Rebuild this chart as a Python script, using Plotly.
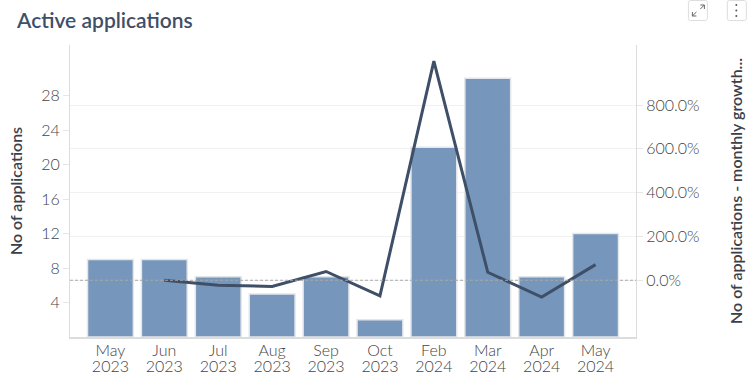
import plotly.graph_objects as go

month_labels = ["May<br>2023", "Jun<br>2023", "Jul<br>2023", "Aug<br>2023", "Sep<br>2023",
                "Oct<br>2023", "Feb<br>2024", "Mar<br>2024", "Apr<br>2024", "May<br>2024"]
applications = [9, 9, 7, 5, 7, 2, 22, 30, 7, 12]
growth = [None, 0, -22.2, -28.6, 40, -71.4, 1000, 36.4, -76.7, 71.4]
left_ticks = [4, 8, 12, 16, 20, 24, 28]
right_ticks = [0, 200, 400, 600, 800]

W, H = 750, 383
L, R, T, B = 69.5, 636.5, 45, 337
FONT = "Lato"
TEXT = "#444444"
NAVY = "#3f4f68"
TITLE = "#3a3f4a"
AXIS = "#dcdcdc"
positions = list(range(len(month_labels)))


def px(x, y):
    return (x - L) / (R - L), (B - y) / (B - T)


def path(points, close=False):
    coords = [px(*p) for p in points]
    d = "M" + " L".join(f"{a:.5f},{b:.5f}" for a, b in coords)
    return d + (" Z" if close else "")


def rounded_rect(x0, y0, x1, y1, r=2):
    a0, b0 = px(x0, y0)
    a1, b1 = px(x1, y1)
    ra, rb = r / (R - L), r / (B - T)
    return (f"M{a0 + ra:.5f},{b0:.5f} L{a1 - ra:.5f},{b0:.5f} Q{a1:.5f},{b0:.5f} {a1:.5f},{b0 - rb:.5f} "
            f"L{a1:.5f},{b1 + rb:.5f} Q{a1:.5f},{b1:.5f} {a1 - ra:.5f},{b1:.5f} "
            f"L{a0 + ra:.5f},{b1:.5f} Q{a0:.5f},{b1:.5f} {a0:.5f},{b1 + rb:.5f} "
            f"L{a0:.5f},{b0 - rb:.5f} Q{a0:.5f},{b0:.5f} {a0 + ra:.5f},{b0:.5f} Z")


fig = go.Figure()
fig.add_trace(go.Bar(x=positions, y=applications, width=0.85,
                     marker=dict(color="#7697bb", line=dict(color="#e3e6ea", width=1.5)),
                     yaxis="y"))
fig.add_trace(go.Scatter(x=positions, y=growth, mode="lines", yaxis="y2",
                         line=dict(color=NAVY, width=3)))

tick_font = dict(family=FONT, size=16, color=TEXT, weight=300)
title_font = dict(family=FONT, size=16, color=TITLE, weight=600)

fig.update_layout(
    width=W, height=H, showlegend=False,
    paper_bgcolor="white", plot_bgcolor="white",
    margin=dict(l=L, r=W - R, t=T, b=H - B, pad=0, autoexpand=False),
    font=dict(family=FONT, size=16, color=TEXT),
    xaxis=dict(tickmode="array", tickvals=positions, ticktext=month_labels,
               range=[-0.75, 9.75], showgrid=False, showline=True, linecolor=AXIS,
               linewidth=1.5, ticks="", tickfont=tick_font, zeroline=False,
               ticklabelstandoff=-2),
    yaxis=dict(range=[0, 33.87], tickmode="array", tickvals=left_ticks, showgrid=False,
               showline=True, linecolor=AXIS, linewidth=1, ticks="outside", ticklen=6,
               tickcolor="#e6e6e6", tickfont=tick_font, zeroline=False,
               title=dict(text="No of applications", font=title_font, standoff=14)),
    yaxis2=dict(range=[-259, 1074], overlaying="y", side="right", tickmode="array",
                tickvals=right_ticks, ticktext=[f"{v:.1f}%" for v in right_ticks],
                showgrid=True, gridcolor="#f1f1f1", gridwidth=1,
                showline=True, linecolor=AXIS, linewidth=1, ticks="outside", ticklen=6,
                tickcolor="#e6e6e6", tickfont=tick_font, zeroline=False,
                title=dict(text="No of applications - monthly growth...",
                           font=title_font, standoff=32)),
    title=dict(text="Active applications", x=17 / W, xanchor="left", y=1 - 21 / H, yanchor="middle",
               font=dict(family=FONT, size=21, color=NAVY, weight=600)),
)

# dashed reference line at zero growth
fig.add_shape(type="line", xref="paper", yref="y2", x0=0, x1=1, y0=0, y1=0,
              line=dict(color="#a8a8a8", width=1, dash="3px,2px"))

# toolbar buttons in the top right corner
for x0, x1 in [(689, 708), (728, 747)]:
    fig.add_shape(type="path", xref="paper", yref="paper", path=rounded_rect(x0, 0.5, x1, 20.5),
                  line=dict(color="#dddddd", width=1), fillcolor="white")
for pts in [[(693, 12), (693, 16), (697, 16)], [(693, 16), (697, 12)],
            [(701, 5), (705, 5), (705, 9)], [(705, 5), (701, 9)]]:
    fig.add_shape(type="path", xref="paper", yref="paper", path=path(pts),
                  line=dict(color="#666666", width=1))
for cy in [5, 10.5, 16]:
    x0, y0 = px(736, cy + 1)
    x1, y1 = px(738, cy - 1)
    fig.add_shape(type="circle", xref="paper", yref="paper", x0=x0, x1=x1, y0=y0, y1=y1,
                  line=dict(width=0), fillcolor="#555555")

# tighten the two-line x labels to the reference's line spacing
post = """
document.body.style.margin = '0';
var gd = document.getElementById('{plot_id}');
function tighten() {
  gd.querySelectorAll('.xtick text').forEach(function (t) {
    var lines = t.querySelectorAll('tspan.line');
    if (lines.length === 2) {
      lines[1].setAttribute('dy', '15.7px');
    }
  });
}
tighten();
setTimeout(tighten, 30);
gd.on && gd.on('plotly_afterplot', tighten);
"""
fig.write_html("out.html", config=dict(displayModeBar=False), post_script=post)
